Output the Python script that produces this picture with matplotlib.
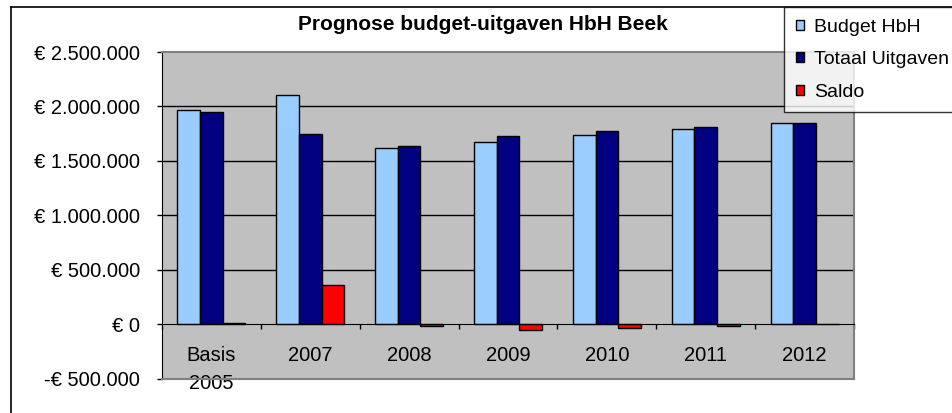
"""Prognose budget-uitgaven HbH Beek — Excel-achtige staafgrafiek

Output: out.png
"""
import matplotlib
matplotlib.use("Agg")
import matplotlib.pyplot as plt
import numpy as np
from matplotlib.lines import Line2D
from matplotlib.patches import Patch
from matplotlib.ticker import FuncFormatter, MultipleLocator, FixedLocator

plt.rcParams["font.family"] = ["Liberation Sans", "DejaVu Sans"]

categories = ["Basis\n2005", "2007", "2008", "2009", "2010", "2011", "2012"]
budget = [1964000, 2108000, 1621000, 1673000, 1740000, 1792000, 1847000]
uitgaven = [1952000, 1746000, 1640000, 1725000, 1770000, 1811000, 1847000]
saldo = [12000, 362000, -19000, -52000, -32000, -19000, 0]

series = ["Budget HbH", "Totaal Uitgaven", "Saldo"]
colors = ["#99ccff", "#000080", "#ff0000"]

W, H = 953, 413
PX = 72 / 100  # points per pixel at dpi 100
fig = plt.figure(figsize=(W / 100, H / 100), dpi=100)
fig.patch.set_facecolor("white")

# plot area in pixel coordinates
left, right, top, bottom = 162, 854, 52, 378.5
ax = fig.add_axes([left / W, 1 - bottom / H, (right - left) / W, (bottom - top) / H])
ax.set_facecolor("#c0c0c0")

x = np.arange(len(categories))
bw = 0.229
for k, (vals, c) in enumerate(zip([budget, uitgaven, saldo], colors)):
    ax.bar(x + (k - 1) * bw, vals, width=bw, color=c, edgecolor="black",
           linewidth=1.0, zorder=2)

ax.set_xlim(-0.5, len(categories) - 0.5)
ax.set_ylim(-500000, 2500000)

# y axis
ax.yaxis.set_major_locator(MultipleLocator(500000))


def euro(v, pos):
    v = int(round(v))
    s = f"{abs(v):,}".replace(",", ".")
    return f"-€ {s}" if v < 0 else f"€ {s}"


ax.yaxis.set_major_formatter(FuncFormatter(euro))
ax.tick_params(axis="y", direction="out", length=5 * PX, width=1, color="black",
               labelsize=14.5, pad=17 * PX)
for gy in [500000, 1000000, 1500000, 2000000]:
    ax.axhline(gy, color="black", linewidth=1.0, zorder=1)

# x axis at zero
ax.spines["bottom"].set_position(("data", 0))
ax.spines["bottom"].set_color("black")
ax.spines["bottom"].set_zorder(3)
ax.xaxis.set_major_locator(FixedLocator(x))
ax.set_xticklabels(categories, fontsize=14.5, linespacing=1.6)
ax.xaxis.set_minor_locator(FixedLocator(np.arange(-0.5, len(categories), 1.0)))
ax.tick_params(axis="x", which="major", length=0, pad=15.5)
ax.tick_params(axis="x", which="minor", direction="out", length=5 * PX, width=1,
               color="black")

ax.spines["left"].set_color("black")
for side in ["top", "right"]:
    ax.spines[side].set_color("#808080")
    ax.spines[side].set_linewidth(1.5)
ax.add_line(Line2D([0, 1], [0, 0], transform=ax.transAxes, color="#808080",
                   linewidth=1.5, clip_on=False, zorder=3))

# title
fig.text(483 / W, 1 - 25 / H, "Prognose budget-uitgaven HbH Beek",
         ha="center", va="center", fontsize=15, fontweight="bold")

# outer chart border (top and left edges visible)
fig.add_artist(Line2D([10.5 / W, 1.0], [1 - 7 / H, 1 - 7 / H],
                      transform=fig.transFigure, color="black", linewidth=1.2))
fig.add_artist(Line2D([10.5 / W, 10.5 / W], [0, 1 - 7 / H],
                      transform=fig.transFigure, color="black", linewidth=1.2))

# legend
handles = [Patch(facecolor=c, edgecolor="black", linewidth=1.0) for c in colors]
leg = fig.legend(handles, series, loc="upper left",
                 bbox_to_anchor=(784 / W, 1 - 7 / H), fontsize=14,
                 frameon=True, fancybox=False, edgecolor="black",
                 handlelength=0.43, handleheight=0.43, handletextpad=0.5,
                 labelspacing=0.8, borderpad=0.6, borderaxespad=0)
leg.get_frame().set_linewidth(1.0)

fig.savefig("out.png", dpi=100, facecolor="white")
